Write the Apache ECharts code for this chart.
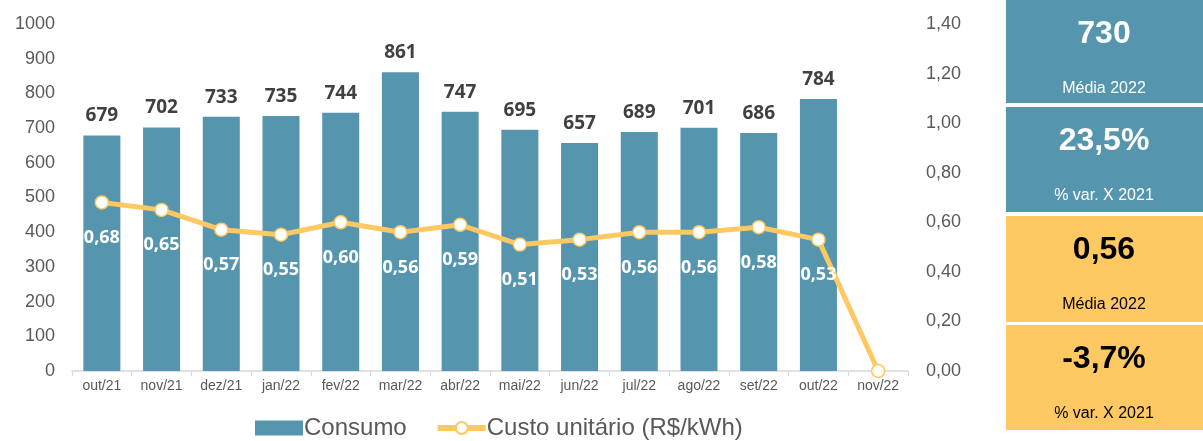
<!DOCTYPE html>
<html>
<head>
<meta charset="utf-8">
<script src="https://cdn.jsdelivr.net/npm/echarts@6/dist/echarts.min.js"></script>
<style>
  html, body { margin: 0; padding: 0; background: #fff; }
  #chart { width: 1203px; height: 441px; }
</style>
</head>
<body>
<div id="chart"></div>
<script>
const months = ['out/21', 'nov/21', 'dez/21', 'jan/22', 'fev/22', 'mar/22', 'abr/22', 'mai/22', 'jun/22', 'jul/22', 'ago/22', 'set/22', 'out/22', 'nov/22'];
const consumo = [679, 702, 733, 735, 744, 861, 747, 695, 657, 689, 701, 686, 784, null];
const custo = [0.68, 0.65, 0.57, 0.55, 0.60, 0.56, 0.59, 0.51, 0.53, 0.56, 0.56, 0.58, 0.53, 0];
const leftTicks = { min: 0, max: 1000, interval: 100 };
const rightTicks = { min: 0, max: 1.4, interval: 0.2 };
const kpiValues = ['730', '23,5%', '0,56', '-3,7%'];
const kpiLabels = ['Média 2022', '% var. X 2021', 'Média 2022', '% var. X 2021'];

const TEAL = '#5596ae';
const GOLD = '#fec862';
const AXIS_TEXT = '#595959';

function comma(v, digits) {
  return Number(v).toFixed(digits).replace('.', ',');
}

// right-hand KPI boxes
const boxTops = [0, 107, 216, 325];
const boxHeights = [103, 105, 106, 105];
const kpiGraphics = [];
kpiValues.forEach((val, i) => {
  const teal = i < 2;
  const top = boxTops[i];
  kpiGraphics.push({
    type: 'rect', left: 1006, top: top,
    shape: { width: 197, height: boxHeights[i] },
    style: { fill: teal ? TEAL : GOLD }
  });
  kpiGraphics.push({
    type: 'text', x: 1104, y: top + 34,
    style: {
      text: val, fill: teal ? '#fff' : '#000',
      font: 'bold 32px "Liberation Sans", Arial, sans-serif',
      align: 'center', verticalAlign: 'middle'
    }
  });
  kpiGraphics.push({
    type: 'text', x: 1104, y: top + 89,
    style: {
      text: kpiLabels[i], fill: teal ? '#fff' : '#000',
      font: '16px "Liberation Sans", Arial, sans-serif',
      align: 'center', verticalAlign: 'middle'
    }
  });
});

const chart = echarts.init(document.getElementById('chart'));
chart.setOption({
  animation: false,
  textStyle: { fontFamily: '"Liberation Sans", Arial, sans-serif' },
  grid: { left: 72, right: 295, top: 24, bottom: 70 },
  legend: {
    bottom: -4,
    left: 250,
    itemWidth: 48,
    itemHeight: 15,
    itemGap: 28,
    textStyle: { fontSize: 24, color: AXIS_TEXT, padding: [0, 0, 0, -4] },
    data: [
      { name: 'Consumo', icon: 'rect' },
      { name: 'Custo unitário (R$/kWh)', lineStyle: { width: 6 } }
    ]
  },
  xAxis: {
    type: 'category',
    data: months,
    boundaryGap: true,
    axisLine: { lineStyle: { color: '#d9d9d9', width: 1.5 } },
    axisTick: { show: true, length: 5, lineStyle: { color: '#d9d9d9' } },
    axisLabel: { color: AXIS_TEXT, fontSize: 14, margin: 8 }
  },
  yAxis: [
    {
      type: 'value',
      min: leftTicks.min, max: leftTicks.max, interval: leftTicks.interval,
      splitLine: { show: false },
      axisLine: { show: false },
      axisTick: { show: false },
      axisLabel: { color: AXIS_TEXT, fontSize: 18, margin: 17, formatter: (v) => String(v) }
    },
    {
      type: 'value',
      min: rightTicks.min, max: rightTicks.max, interval: rightTicks.interval,
      splitLine: { show: false },
      axisLine: { show: false },
      axisTick: { show: false },
      axisLabel: { color: AXIS_TEXT, fontSize: 18, margin: 18, formatter: (v) => comma(v, 2) }
    }
  ],
  series: [
    {
      name: 'Consumo',
      type: 'bar',
      data: consumo,
      barWidth: '62%',
      itemStyle: { color: TEAL },
      label: {
        show: true,
        position: 'top',
        distance: 10,
        color: '#404040',
        fontSize: 19,
        fontWeight: 'bold',
        fontFamily: '"Open Sans", sans-serif'
      }
    },
    {
      name: 'Custo unitário (R$/kWh)',
      type: 'line',
      yAxisIndex: 1,
      data: custo,
      symbol: 'circle',
      symbolSize: 13,
      lineStyle: { color: GOLD, width: 5 },
      itemStyle: { color: '#fff', borderColor: GOLD, borderWidth: 1.5 },
      label: {
        show: true,
        position: 'bottom',
        distance: 19,
        color: '#fff',
        fontSize: 18,
        fontWeight: 'bold',
        fontFamily: '"Open Sans", sans-serif',
        formatter: (p) => (p.dataIndex === custo.length - 1 ? '' : comma(p.value, 2))
      },
      z: 3
    }
  ],
  graphic: kpiGraphics
});
</script>
</body>
</html>
